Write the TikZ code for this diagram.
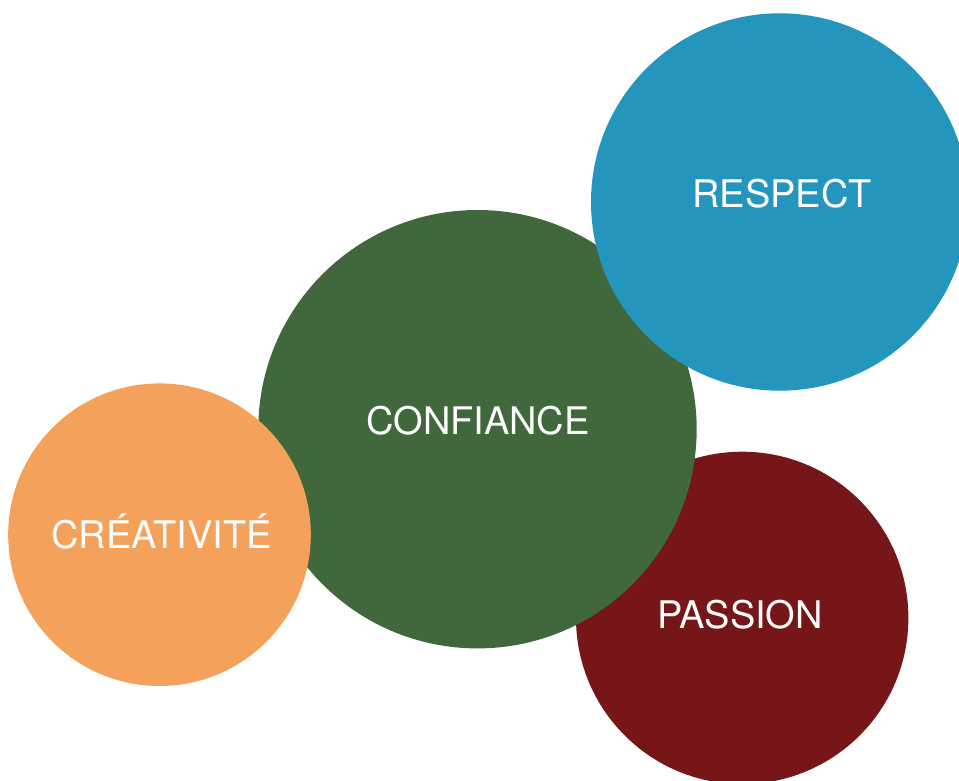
\documentclass[tikz,border=0pt]{standalone}
\usepackage{fontspec}
\setmainfont{TeX Gyre Heros}
\definecolor{corange}{HTML}{F4A25B}
\definecolor{cgreen}{HTML}{41683C}
\definecolor{cblue}{HTML}{2496BE}
\definecolor{cred}{HTML}{761618}
\tikzset{
  bubble/.style={circle, inner sep=0pt, outer sep=0pt, draw=none},
  word/.style={text=white, inner sep=0pt, anchor=base,
    font=\fontsize{38}{40}\selectfont}
}
\begin{document}
\begin{tikzpicture}[x=1pt,y=-1pt]
  \useasboundingbox (0,0) rectangle (959,781);
  \clip (0,0) rectangle (959,781);
  \node[bubble, fill=cred, minimum size=332.4pt] (passion) at (742.2,617.9) {};
  \node[bubble, fill=cgreen, minimum size=438.4pt] (confiance) at (477.5,429.2) {};
  \node[bubble, fill=corange, minimum size=302.6pt] (creativite) at (159.5,534.7) {};
  \node[bubble, fill=cblue, minimum size=377.4pt] (respect) at (779.7,202.0) {};
  \node[word] (tcreativite) at (161.5,548) {CRÉATIVITÉ};
  \node[word] (tconfiance) at (478,434) {CONFIANCE};
  \node[word] (trespect) at (782,207.7) {RESPECT};
  \node[word] (tpassion) at (740,628) {PASSION};
\end{tikzpicture}
\end{document}
